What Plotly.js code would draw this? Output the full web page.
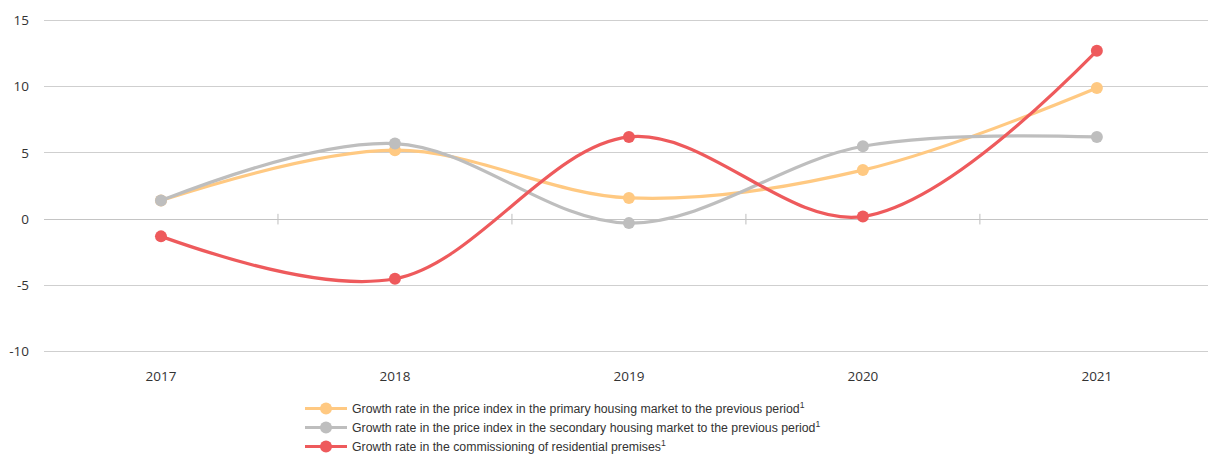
<!DOCTYPE html>
<html>
<head>
<meta charset="utf-8">
<script src="https://cdn.plot.ly/plotly-3.0.1.min.js"></script>
<style>html,body{margin:0;padding:0;background:#fff;}#chart{width:1208px;height:459px;}</style>
</head>
<body>
<div id="chart"></div>
<script>
const years = ["2017", "2018", "2019", "2020", "2021"];
const primaryMarket = [1.4, 5.2, 1.6, 3.7, 9.9];
const secondaryMarket = [1.4, 5.7, -0.3, 5.5, 6.2];
const commissioning = [-1.3, -4.5, 6.2, 0.2, 12.7];
const seriesNames = [
  "Growth rate in the price index in the primary housing market to the previous period<sup>1</sup>",
  "Growth rate in the price index in the secondary housing market to the previous period<sup>1</sup>",
  "Growth rate in the commissioning of residential premises<sup>1</sup>"
];
const yTicks = [-10, -5, 0, 5, 10, 15];
const boundaryTicks = [0.5, 1.5, 2.5, 3.5];

const colors = ["#FFC982", "#BEBEBE", "#EE5A5C"];
const seriesData = [primaryMarket, secondaryMarket, commissioning];

const traces = seriesData.map((vals, i) => ({
  x: years,
  y: vals,
  name: seriesNames[i],
  type: "scatter",
  mode: "lines+markers",
  line: {color: colors[i], width: 3.2, shape: "spline", smoothing: 1},
  marker: {color: colors[i], size: 12},
  hoverinfo: "x+y"
}));
const xrange = [-0.5, 4.475];
// small cross ticks on the zero line at category boundaries
const tickShapes = boundaryTicks.map(b => ({
  type: "line", xref: "x", yref: "y",
  x0: b, x1: b, y0: -0.4, y1: 0.4,
  line: {color: "#bdbdbd", width: 1},
  layer: "below"
}));
const layout = {
  width: 1208, height: 459,
  margin: {l: 44, r: 0, t: 15, b: 102, autoexpand: false},
  paper_bgcolor: "#fff", plot_bgcolor: "#fff",
  font: {family: "Open Sans, sans-serif", size: 13, color: "#333"},
  showlegend: true,
  shapes: tickShapes,
  legend: {
    xref: "container", yref: "container",
    x: 300 / 1208, y: 1 - 394 / 459,
    xanchor: "left", yanchor: "top",
    orientation: "v",
    itemwidth: 42,
    font: {family: "Liberation Sans, Arial, sans-serif", size: 12.3, color: "#333"},
    tracegroupgap: 0,
    bgcolor: "rgba(0,0,0,0)"
  },
  xaxis: {
    type: "category",
    range: xrange,
    showgrid: false, zeroline: false, showline: false,
    ticks: "", ticklabelstandoff: 9,
    tickfont: {size: 13.5, color: "#333"},
    fixedrange: true
  },
  yaxis: {
    range: [-10.4, 15.4],
    tickvals: yTicks,
    ticktext: yTicks.map(String),
    showgrid: true, gridcolor: "#cfcfcf", gridwidth: 1,
    zeroline: true, zerolinecolor: "#c4c4c4", zerolinewidth: 1,
    showline: false, ticks: "", ticklabelstandoff: 14,
    tickfont: {size: 13.5, color: "#333"},
    fixedrange: true
  }
};
Plotly.newPlot("chart", traces, layout, {displayModeBar: false, staticPlot: true});
</script>
</body>
</html>
